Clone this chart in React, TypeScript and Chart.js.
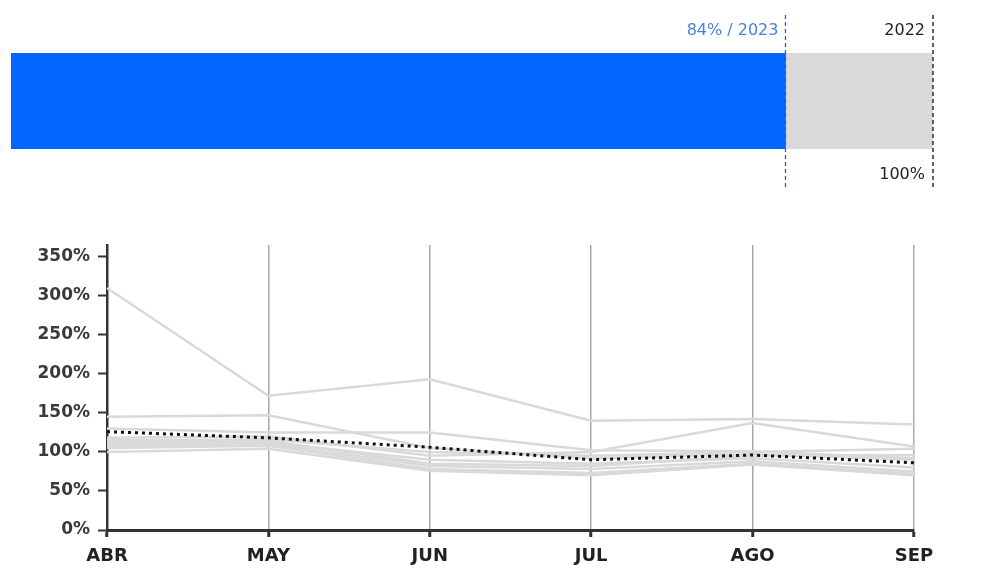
import React, { useEffect, useRef } from "react";
import { Chart, registerables } from "chart.js";

Chart.register(...registerables);

// ---------- data: top comparison bar ----------
const barCategories = ["Total"];
const value2023 = [84];
const value2022 = [100];
const label2023 = "84% / 2023";
const label2022 = "2022";
const label2022Value = "100%";

// ---------- data: monthly lines ----------
const months = ["ABR", "MAY", "JUN", "JUL", "AGO", "SEP"];
const yTickStep = 50;
const yMax = 365;
const averageLine = [126, 118, 106, 90, 96, 86];
const line1 = [310, 172, 193, 140, 142, 135];
const line2 = [145, 147, 105, 92, 97, 90];
const line3 = [130, 125, 125, 102, 101, 92];
const line4 = [118, 120, 95, 100, 137, 107];
const line5 = [112, 112, 90, 85, 92, 80];
const line6 = [108, 110, 82, 78, 88, 75];
const line7 = [105, 108, 78, 73, 85, 72];
const line8 = [100, 104, 76, 70, 84, 70];
const line9 = [115, 116, 100, 95, 100, 104];
const line10 = [110, 114, 85, 82, 95, 96];
const greyLines = [line1, line2, line3, line4, line5, line6, line7, line8, line9, line10];

const FONT = "'DejaVu Sans', sans-serif";

export default function App() {
  const barRef = useRef<HTMLCanvasElement>(null);
  const lineRef = useRef<HTMLCanvasElement>(null);

  useEffect(() => {
    const markers = {
      id: "markers",
      afterDatasetsDraw(chart: any) {
        const ctx = chart.ctx;
        const xs = chart.scales.x;
        const x23 = xs.getPixelForValue(value2023[0]);
        const x22 = xs.getPixelForValue(value2022[0]);
        ctx.save();
        ctx.lineWidth = 1.3;
        ctx.setLineDash([4, 3]);
        ctx.strokeStyle = "#2f5fae";
        ctx.beginPath();
        ctx.moveTo(x23, 15);
        ctx.lineTo(x23, 187);
        ctx.stroke();
        ctx.strokeStyle = "#111";
        ctx.beginPath();
        ctx.moveTo(x22, 15);
        ctx.lineTo(x22, 187);
        ctx.stroke();
        ctx.setLineDash([]);
        ctx.font = `16px ${FONT}`;
        ctx.textAlign = "right";
        ctx.textBaseline = "middle";
        ctx.fillStyle = "#4a7fdc";
        ctx.fillText(label2023, x23 - 7, 31);
        ctx.fillStyle = "#222";
        ctx.fillText(label2022, x22 - 8, 31);
        ctx.fillText(label2022Value, x22 - 8, 175);
        ctx.restore();
      },
    };

    const bar = new Chart(barRef.current!, {
      type: "bar",
      data: {
        labels: barCategories,
        datasets: [
          {
            data: value2023,
            backgroundColor: "#0066ff",
            grouped: false,
            barPercentage: 1,
            categoryPercentage: 1,
          } as any,
          {
            data: value2022,
            backgroundColor: "#d9d9d9",
            grouped: false,
            barPercentage: 1,
            categoryPercentage: 1,
          } as any,
        ],
      },
      options: {
        indexAxis: "y",
        responsive: false,
        animation: false,
        devicePixelRatio: 1,
        layout: { padding: { left: 11, right: 57, top: 53, bottom: 51 } },
        plugins: { legend: { display: false }, tooltip: { enabled: false } },
        scales: {
          x: { display: false, min: 0, max: 100 },
          y: { display: false },
        },
      },
      plugins: [markers],
    });

    const line = new Chart(lineRef.current!, {
      type: "line",
      data: {
        labels: months,
        datasets: [
          {
            data: averageLine,
            borderColor: "#111",
            borderWidth: 3,
            borderDash: [3, 4],
            pointRadius: 0,
            tension: 0,
          },
          ...greyLines.map((d) => ({
            data: d,
            borderColor: "#d9d9d9",
            borderWidth: 2.5,
            pointRadius: 0,
            tension: 0,
          })),
        ],
      },
      options: {
        responsive: false,
        animation: false,
        devicePixelRatio: 1,
        layout: { padding: { left: 0, right: 76, top: 20, bottom: 0 } },
        plugins: { legend: { display: false }, tooltip: { enabled: false } },
        scales: {
          x: {
            offset: false,
            afterFit: (s: any) => {
              s.height = 42;
            },
            border: { display: true, color: "#333", width: 3 },
            grid: {
              display: true,
              drawOnChartArea: true,
              color: "#a8a8a8",
              lineWidth: 1.5,
              tickLength: 7,
              tickColor: "#333",
              tickWidth: 3,
            } as any,
            ticks: {
              color: "#222",
              font: { family: FONT, size: 18, weight: "bold" },
              padding: 9,
              maxRotation: 0,
            },
          },
          y: {
            min: 0,
            max: yMax,
            afterFit: (s: any) => {
              s.width = 107;
            },
            border: { display: true, color: "#333", width: 2.5 },
            grid: {
              drawOnChartArea: false,
              drawTicks: true,
              tickLength: 9,
              tickColor: "#333",
              tickWidth: 2,
            } as any,
            ticks: {
              stepSize: yTickStep,
              includeBounds: false,
              color: "#3a3a3a",
              padding: 8,
              font: { family: FONT, size: 17, weight: "bold" },
              callback: (v: any) => `${v}%`,
            } as any,
          },
        },
      },
    });

    return () => {
      bar.destroy();
      line.destroy();
    };
  }, []);

  return (
    <div
      style={{
        position: "absolute",
        left: 0,
        top: 0,
        width: 990,
        height: 572,
        background: "#fff",
        overflow: "hidden",
      }}
    >
      <canvas
        ref={barRef}
        width={990}
        height={200}
        style={{ position: "absolute", left: 0, top: 0 }}
      />
      <canvas
        ref={lineRef}
        width={990}
        height={347}
        style={{ position: "absolute", left: 0, top: 225 }}
      />
    </div>
  );
}
